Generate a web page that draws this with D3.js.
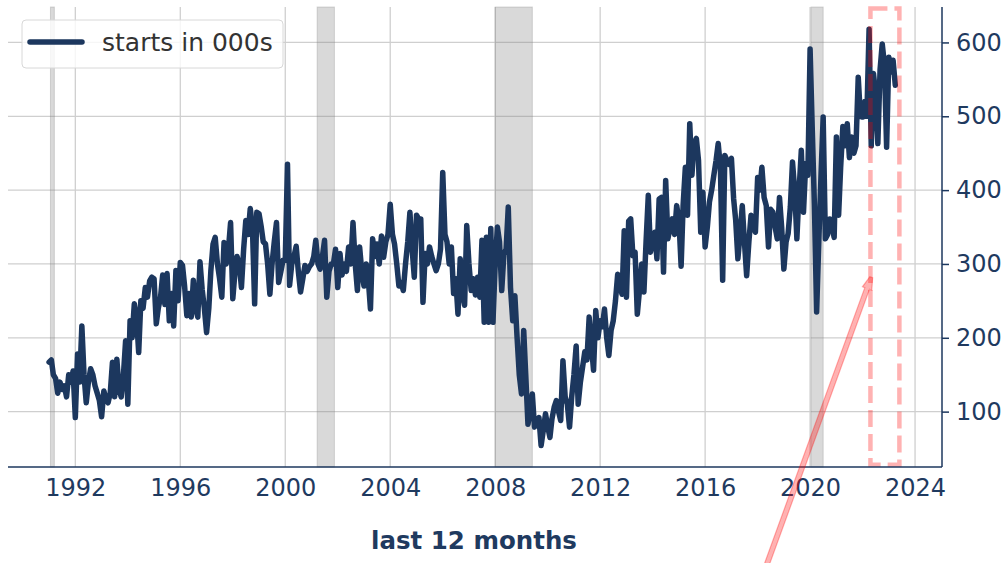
<!DOCTYPE html>
<html>
<head>
<meta charset="utf-8">
<script src="https://cdn.jsdelivr.net/npm/d3@7"></script>
<style>
  body { margin: 0; background: #fff; }
  svg { display: block; font-family: "DejaVu Sans", sans-serif; }
</style>
</head>
<body>
<svg id="chart" width="1007" height="563"></svg>
<script>
// monthly starts (000s), Jan 1991 .. Apr 2023
const firstMonth = new Date(1991, 0, 1)
const starts = [
  167, 170, 150, 145, 125, 140, 130, 135, 120, 150, 140, 155, // 1991
  92, 178, 140, 216, 150, 112, 140, 158, 150, 135, 125, 115,  // 1992
  93, 128, 118, 112, 125, 167, 120, 171, 130, 120, 150, 196,  // 1993
  110, 223, 200, 246, 230, 180, 250, 240, 268, 255, 277, 282, // 1994
  280, 219, 240, 255, 285, 245, 287, 223, 260, 216, 291, 250, // 1995
  302, 298, 270, 230, 260, 228, 278, 240, 228, 303, 265, 240, // 1996
  207, 240, 290, 327, 336, 300, 280, 255, 329, 300, 320, 356, // 1997
  253, 290, 310, 300, 268, 320, 359, 340, 375, 350, 246, 370, // 1998
  368, 350, 330, 327, 300, 259, 300, 330, 356, 275, 290, 305, // 1999
  305, 435, 271, 300, 310, 324, 290, 262, 280, 298, 290, 296, // 2000
  300, 310, 332, 300, 293, 310, 332, 255, 290, 300, 300, 320, // 2001
  268, 314, 285, 300, 290, 323, 300, 356, 300, 264, 323, 290, // 2002
  270, 300, 280, 239, 334, 310, 327, 300, 338, 309, 330, 340, // 2003
  381, 340, 327, 300, 270, 275, 264, 300, 330, 370, 320, 282, // 2004
  366, 361, 361, 248, 314, 300, 323, 310, 300, 291, 300, 320, // 2005
  424, 340, 330, 300, 323, 260, 280, 232, 307, 260, 244, 352, // 2006
  300, 264, 280, 258, 282, 255, 332, 221, 336, 221, 348, 221, // 2007
  300, 350, 330, 264, 313, 320, 377, 268, 223, 257, 200, 150, // 2008
  124, 210, 150, 83, 100, 124, 79, 85, 92, 54, 75, 97,        // 2009
  80, 65, 90, 106, 115, 100, 88, 169, 120, 110, 79, 120,      // 2010
  150, 189, 110, 140, 160, 181, 170, 228, 190, 156, 237, 200, // 2011
  223, 215, 239, 200, 176, 210, 223, 250, 286, 270, 259, 345, // 2012
  255, 358, 361, 311, 316, 232, 264, 300, 262, 330, 393, 316, // 2013
  330, 343, 307, 388, 390, 289, 413, 334, 350, 361, 340, 379, // 2014
  360, 297, 380, 431, 366, 490, 420, 463, 470, 440, 343, 397, // 2015
  323, 350, 384, 400, 420, 440, 463, 430, 278, 447, 440, 435, // 2016
  443, 388, 360, 307, 340, 379, 330, 284, 330, 366, 350, 343, // 2017
  417, 400, 431, 390, 379, 323, 374, 370, 350, 334, 390, 350, // 2018
  293, 330, 341, 377, 438, 400, 334, 400, 454, 370, 436, 420, // 2019
  591, 480, 380, 235, 330, 420, 499, 334, 340, 361, 350, 336, // 2020
  472, 366, 430, 486, 460, 490, 444, 472, 450, 460, 553, 500, // 2021
  499, 520, 500, 618, 460, 558, 530, 463, 563, 598, 570, 458, // 2022
  580, 560, 576, 542                                          // 2023
]

// recession shading (start, end)
const recessions = [
  ["1991-01-20", "1991-03-15"],
  ["2001-03-20", "2001-11-15"],
  ["2008-01-01", "2009-06-01"],
  ["2020-01-15", "2020-07-01"]
]

const xTickYears = [1992, 1996, 2000, 2004, 2008, 2012, 2016, 2020, 2024]
const yTicks = [100, 200, 300, 400, 500, 600]

// last 12 months box and arrow
const boxDates = ["2022-04-20", "2023-05-28"]
const boxValues = [28, 646]
const arrowTip = { date: "2022-05-01", value: 282 }

const seriesName = "starts in 000s"
const xTitle = "last 12 months"

const NAVY = "#1c375e"
const TEXT = "#1f3a5f"

const parseDay = d3.timeParse("%Y-%m-%d")

const data = starts.map((v, i) => ({ date: d3.timeMonth.offset(firstMonth, i), v: v }))

const PLOT = { LEFT: 8, RIGHT: 942, TOP: 7, BOTTOM: 467 }

const svg = d3.select("#chart")

// scales
const x = d3.scaleTime()
  .domain([new Date(1989, 5, 8), new Date(2025, 0, 10)])
  .range([PLOT.LEFT, PLOT.RIGHT])
const y = d3.scaleLinear()
  .domain([25, 648])
  .range([PLOT.BOTTOM, PLOT.TOP])

// grid
const grid = svg.append("g").attr("class", "grid")
grid.selectAll("line.v")
  .data(xTickYears)
  .join("line")
  .attr("class", "v")
  .attr("x1", d => x(new Date(d, 0, 1)))
  .attr("x2", d => x(new Date(d, 0, 1)))
  .attr("y1", PLOT.TOP)
  .attr("y2", PLOT.BOTTOM)
  .attr("stroke", "#cfcfcf")
  .attr("stroke-width", 1.3)
grid.selectAll("line.h")
  .data(yTicks)
  .join("line")
  .attr("class", "h")
  .attr("x1", PLOT.LEFT)
  .attr("x2", PLOT.RIGHT)
  .attr("y1", d => y(d))
  .attr("y2", d => y(d))
  .attr("stroke", "#cfcfcf")
  .attr("stroke-width", 1.3)

// recession bands
svg.append("g")
  .selectAll("rect")
  .data(recessions)
  .join("rect")
  .attr("x", d => x(parseDay(d[0])))
  .attr("width", d => x(parseDay(d[1])) - x(parseDay(d[0])))
  .attr("y", PLOT.TOP)
  .attr("height", PLOT.BOTTOM - PLOT.TOP)
  .attr("fill", "rgba(128,128,128,0.3)")
  .attr("stroke", "rgba(128,128,128,0.3)")
  .attr("stroke-width", 1)

// series line
const line = d3.line()
  .x(d => x(d.date))
  .y(d => y(d.v))

svg.append("path")
  .datum(data)
  .attr("d", line)
  .attr("fill", "none")
  .attr("stroke", NAVY)
  .attr("stroke-width", 5.5)
  .attr("stroke-linejoin", "round")
  .attr("stroke-linecap", "round")

// dashed box round the last 12 months
const bx0 = x(parseDay(boxDates[0])), bx1 = x(parseDay(boxDates[1]))
const by0 = y(boxValues[1]), by1 = y(boxValues[0])
svg.append("rect")
  .attr("x", bx0)
  .attr("y", by0)
  .attr("width", bx1 - bx0)
  .attr("height", by1 - by0)
  .attr("fill", "none")
  .attr("stroke", "rgba(255,0,0,0.3)")
  .attr("stroke-width", 4.5)
  .attr("stroke-dasharray", "17,7")

// axes
const xAxis = svg.append("g")
  .attr("transform", `translate(0, ${PLOT.BOTTOM})`)
  .call(d3.axisBottom(x)
    .tickValues(xTickYears.map(d => new Date(d, 0, 1)))
    .tickFormat(d3.timeFormat("%Y"))
    .tickSize(0)
    .tickPadding(12))
xAxis.select(".domain").attr("stroke", NAVY).attr("stroke-width", 1.5)
  .attr("d", `M${PLOT.LEFT},0H${PLOT.RIGHT}`)
xAxis.selectAll("text")
  .attr("font-family", "DejaVu Sans")
  .attr("font-size", 24)
  .attr("fill", TEXT)

const yAxis = svg.append("g")
  .attr("transform", `translate(${PLOT.RIGHT}, 0)`)
  .call(d3.axisRight(y)
    .tickValues(yTicks)
    .tickSize(7)
    .tickPadding(7))
yAxis.select(".domain").attr("stroke", NAVY).attr("stroke-width", 1.5)
  .attr("d", `M0,${PLOT.TOP}V${PLOT.BOTTOM}`)
yAxis.selectAll(".tick line").attr("stroke", NAVY).attr("stroke-width", 1.5)
yAxis.selectAll("text")
  .attr("font-family", "DejaVu Sans")
  .attr("font-size", 24)
  .attr("fill", TEXT)

// x title
svg.append("text")
  .attr("x", 474)
  .attr("y", 549)
  .attr("text-anchor", "middle")
  .attr("font-size", 24.5)
  .attr("font-weight", "bold")
  .attr("fill", TEXT)
  .text(xTitle)

// arrow from title to the box
const tipX = x(parseDay(arrowTip.date)), tipY = y(arrowTip.value)
const tailX = tipX - 140, tailY = tipY + 385
const len = Math.hypot(tipX - tailX, tipY - tailY)
const ux = (tipX - tailX) / len, uy = (tipY - tailY) / len
const px = -uy, py = ux
const shaftW = 2.5, headW = 5, headL = 12
const hx = tipX - ux * headL, hy = tipY - uy * headL
const arrowPts = [
  [tailX + px * shaftW, tailY + py * shaftW],
  [hx + px * shaftW, hy + py * shaftW],
  [hx + px * headW, hy + py * headW],
  [tipX + px * 1.5, tipY + py * 1.5],
  [tipX - px * 1.5, tipY - py * 1.5],
  [hx - px * headW, hy - py * headW],
  [hx - px * shaftW, hy - py * shaftW],
  [tailX - px * shaftW, tailY - py * shaftW]
]
svg.append("path")
  .attr("d", "M" + arrowPts.map(p => p.join(",")).join("L") + "Z")
  .attr("fill", "rgba(255,0,0,0.3)")
  .attr("stroke", "rgba(255,0,0,0.3)")
  .attr("stroke-width", 1.2)

// legend
const legend = svg.append("g")
legend.append("rect")
  .attr("x", 22).attr("y", 20)
  .attr("width", 261).attr("height", 48)
  .attr("rx", 4)
  .attr("fill", "rgba(255,255,255,0.8)")
  .attr("stroke", "#d8d8d8")
  .attr("stroke-width", 1)
legend.append("line")
  .attr("x1", 30).attr("x2", 82)
  .attr("y1", 42).attr("y2", 42)
  .attr("stroke", NAVY)
  .attr("stroke-width", 5.5)
  .attr("stroke-linecap", "round")
legend.append("text")
  .attr("x", 102).attr("y", 51)
  .attr("font-size", 25)
  .attr("fill", "#333")
  .text(seriesName)
</script>
</body>
</html>
